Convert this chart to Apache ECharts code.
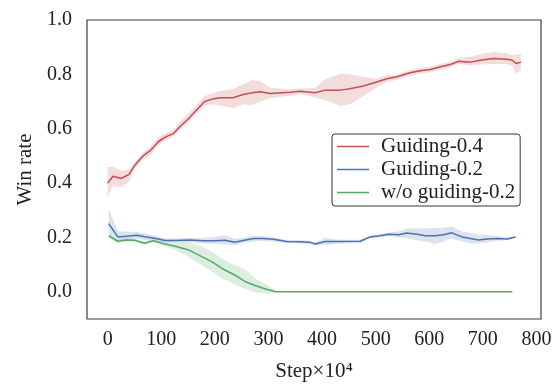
<!DOCTYPE html>
<html>
<head>
<meta charset="utf-8">
<script src="https://cdn.jsdelivr.net/npm/echarts@6/dist/echarts.min.js"></script>
<style>html,body{margin:0;padding:0;background:#fff}#c{width:560px;height:387px}</style>
</head>
<body>
<div id="c"></div>
<script>
// ---- data ----
const xTicks = [0, 100, 200, 300, 400, 500, 600, 700, 800];
const yTicks = [0, 0.2, 0.4, 0.6, 0.8, 1.0];

const redName = 'Guiding-0.4';
const redSteps = [0,10,25,40,50,65,80,95,110,122,135,150,166,181,195,210,234,253,270,285,303,340,359,387,406,434,452,477,499,521,540,564,583,602,620,639,655,677,695,720,745,755,762,771];
const redMean  = [0.400,0.425,0.417,0.432,0.464,0.498,0.520,0.553,0.572,0.581,0.608,0.635,0.669,0.700,0.709,0.714,0.714,0.726,0.732,0.736,0.730,0.734,0.738,0.732,0.742,0.742,0.747,0.757,0.770,0.784,0.791,0.806,0.813,0.818,0.827,0.836,0.848,0.845,0.852,0.858,0.856,0.852,0.840,0.845];
const redLow   = [0.350,0.390,0.385,0.405,0.450,0.485,0.505,0.540,0.560,0.570,0.595,0.620,0.655,0.685,0.690,0.685,0.675,0.690,0.687,0.700,0.712,0.722,0.728,0.715,0.706,0.684,0.690,0.720,0.748,0.772,0.780,0.795,0.803,0.808,0.816,0.826,0.838,0.832,0.836,0.838,0.838,0.830,0.803,0.815];
const redHigh  = [0.460,0.460,0.445,0.450,0.475,0.510,0.535,0.570,0.585,0.595,0.625,0.655,0.685,0.720,0.730,0.740,0.745,0.765,0.779,0.775,0.751,0.745,0.748,0.750,0.781,0.803,0.800,0.790,0.785,0.796,0.800,0.815,0.823,0.828,0.838,0.846,0.860,0.865,0.874,0.882,0.878,0.870,0.872,0.876];

const blueName = 'Guiding-0.2';
const blueSteps = [2,19,35,54,72,88,107,128,153,178,200,219,237,253,272,290,309,334,359,378,387,406,434,471,490,508,524,543,558,577,593,611,627,642,661,677,692,708,727,745,761];
const blueMean  = [0.251,0.202,0.204,0.208,0.202,0.197,0.189,0.189,0.191,0.188,0.188,0.190,0.182,0.189,0.196,0.196,0.193,0.185,0.184,0.182,0.176,0.185,0.185,0.186,0.202,0.206,0.212,0.210,0.216,0.212,0.206,0.206,0.210,0.217,0.202,0.196,0.191,0.194,0.196,0.194,0.202];
const blueLow   = [0.206,0.190,0.190,0.195,0.190,0.187,0.182,0.182,0.183,0.178,0.176,0.174,0.172,0.179,0.185,0.187,0.185,0.179,0.178,0.176,0.171,0.172,0.178,0.180,0.196,0.200,0.206,0.200,0.198,0.190,0.184,0.176,0.185,0.196,0.185,0.178,0.178,0.181,0.188,0.190,0.198];
const blueHigh  = [0.306,0.222,0.222,0.220,0.214,0.207,0.196,0.196,0.199,0.198,0.202,0.208,0.194,0.199,0.207,0.205,0.201,0.191,0.190,0.188,0.181,0.198,0.192,0.192,0.208,0.212,0.218,0.222,0.233,0.234,0.233,0.236,0.236,0.240,0.222,0.216,0.210,0.210,0.204,0.198,0.206];

const greenName = 'w/o guiding-0.2';
const greenSteps = [2,19,35,50,69,85,107,128,150,172,194,215,237,256,275,293,312,330,755];
const greenMean  = [0.206,0.186,0.191,0.190,0.179,0.188,0.176,0.167,0.155,0.133,0.111,0.084,0.062,0.038,0.023,0.011,0.001,0,0];
const greenLow   = [0.198,0.180,0.185,0.184,0.173,0.182,0.168,0.152,0.130,0.102,0.075,0.048,0.027,0.011,-0.002,-0.007,-0.004,0,0];
const greenHigh  = [0.214,0.192,0.197,0.196,0.185,0.194,0.184,0.182,0.185,0.169,0.148,0.120,0.098,0.084,0.050,0.030,0.008,0,0];

// ---- build ----
const FONT = '"Liberation Serif", "DejaVu Serif", serif';
function zip(xs, ys) { return xs.map((x, i) => [x, ys[i]]); }
function bandSeries(xs, lo, hi, color) {
  return {
    type: 'custom', silent: true, z: 1,
    data: xs.map((x, i) => [x, lo[i], hi[i]]),
    encode: { x: 0, y: [1, 2] },
    renderItem: function (params, api) {
      if (params.dataIndex !== 0) return null;
      const top = [], bot = [];
      for (let i = 0; i < xs.length; i++) {
        top.push(api.coord([xs[i], hi[i]]));
        bot.push(api.coord([xs[i], lo[i]]));
      }
      return {
        type: 'polygon',
        shape: { points: top.concat(bot.reverse()) },
        style: { fill: color, opacity: 0.2 }
      };
    }
  };
}
function lineSeries(name, xs, ys, color) {
  return { name: name, type: 'line', data: zip(xs, ys), symbol: 'none', z: 3,
    lineStyle: { color: color, width: 1.5 }, itemStyle: { color: color } };
}
const RED = '#c44e52', BLUE = '#4c72b0', GREEN = '#55a868';

const chart = echarts.init(document.getElementById('c'), null, { renderer: 'canvas' });
chart.setOption({
  animation: false,
  backgroundColor: '#fff',
  grid: { left: 87, top: 20, right: 19, bottom: 67, show: true, borderColor: '#3c3c3c', borderWidth: 1.2, backgroundColor: 'transparent' },
  xAxis: {
    type: 'value', min: -38.5, max: 808.5,
    axisLine: { show: false }, axisTick: { show: false }, splitLine: { show: false },
    axisLabel: { customValues: xTicks, fontFamily: FONT, fontSize: 20, color: '#222', margin: 11 },
    name: 'Step×10⁴', nameLocation: 'middle', nameGap: 42,
    nameTextStyle: { fontFamily: FONT, fontSize: 21, color: '#222' }
  },
  yAxis: {
    type: 'value', min: -0.1, max: 1.0,
    axisLine: { show: false }, axisTick: { show: false }, splitLine: { show: false },
    axisLabel: { customValues: yTicks, formatter: v => v.toFixed(1), fontFamily: FONT, fontSize: 20, color: '#222', margin: 15 },
    name: 'Win rate', nameLocation: 'middle', nameGap: 51, nameRotate: 90,
    nameTextStyle: { fontFamily: FONT, fontSize: 21, color: '#222' }
  },
  legend: {
    show: true,
    data: [redName, blueName, greenName],
    orient: 'vertical', left: 332, top: 134,
    backgroundColor: '#fff', borderColor: '#333', borderWidth: 1, borderRadius: 3,
    padding: [2, 5, 3, 5], itemGap: 2, itemWidth: 32, itemHeight: 1.5, icon: 'rect',
    textStyle: { fontFamily: FONT, fontSize: 21, lineHeight: 21, color: '#222', padding: [0, 0, 0, 7] }
  },
  series: [
    bandSeries(redSteps, redLow, redHigh, RED),
    bandSeries(blueSteps, blueLow, blueHigh, BLUE),
    bandSeries(greenSteps, greenLow, greenHigh, GREEN),
    lineSeries(redName, redSteps, redMean, RED),
    lineSeries(blueName, blueSteps, blueMean, BLUE),
    lineSeries(greenName, greenSteps, greenMean, GREEN)
  ]
});
</script>
</body>
</html>
